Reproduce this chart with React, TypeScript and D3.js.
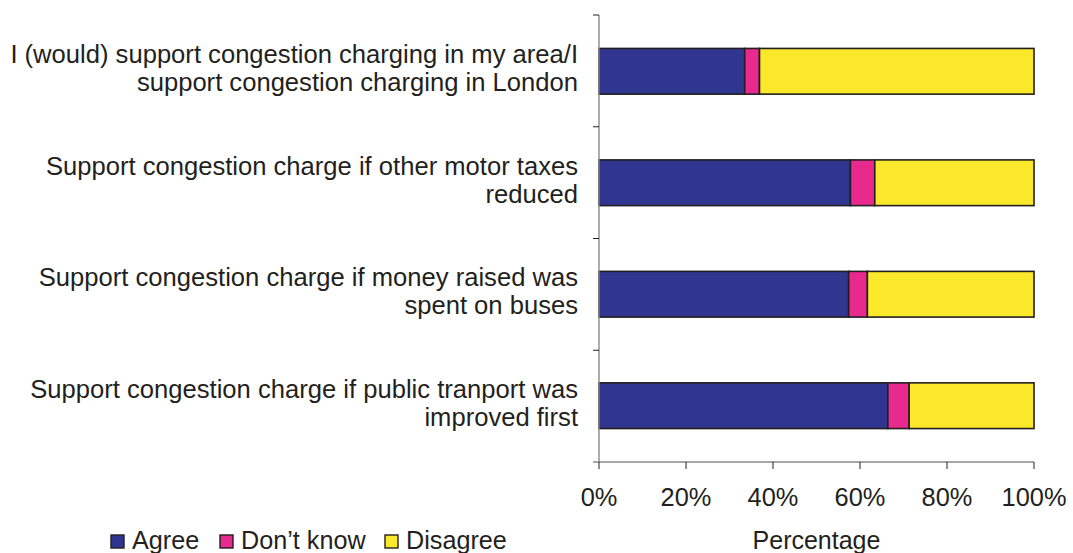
import * as React from "react";
import * as d3 from "d3";

const CATEGORY_LINES: string[][] = [
  ["I (would) support congestion charging in my area/I", "support congestion charging in London"],
  ["Support congestion charge if other motor taxes", "reduced"],
  ["Support congestion charge if money raised was", "spent on buses"],
  ["Support congestion charge if public tranport was", "improved first"],
];

const SERIES = ["Agree", "Don\u2019t know", "Disagree"];
const AGREE = [33.5, 57.8, 57.4, 66.4];
const DONT_KNOW = [3.4, 5.6, 4.3, 4.9];
const DISAGREE = [63.1, 36.6, 38.3, 28.7];
const X_TICKS = [0, 20, 40, 60, 80, 100];

const COLORS = ["#30358f", "#e8298e", "#fbe82b"];
const INK = "#231f20";
const AXIS_GREY = "#8a8a8a";
const FONT = "'Liberation Sans', Arial, Helvetica, sans-serif";

export default function App() {
  const width = 1073;
  const height = 553;
  const margin = { left: 599, right: 39, top: 15, bottom: 91 };

  const rows = CATEGORY_LINES.map((_, i) => ({
    idx: i,
    Agree: AGREE[i],
    [SERIES[1]]: DONT_KNOW[i],
    Disagree: DISAGREE[i],
  }));

  const x = d3
    .scaleLinear()
    .domain([0, 100])
    .range([margin.left, width - margin.right]);

  const y = d3
    .scaleBand<number>()
    .domain(rows.map((d) => d.idx))
    .range([margin.top, height - margin.bottom])
    .paddingInner(0.59)
    .paddingOuter(0.3);

  const stacked = d3.stack<any>().keys(SERIES)(rows);

  const y0 = margin.top;
  const y1 = height - margin.bottom;
  // category separators on the y axis
  const boundaries = d3.range(rows.length + 1).map((i) => y0 + i * ((y1 - y0) / rows.length));

  const legendX = [111, 220, 385];

  return (
    <svg
      width={width}
      height={height}
      style={{ position: "absolute", left: 0, top: 0, background: "#fff" }}
      fontFamily={FONT}
    >
      {/* bars */}
      {stacked.map((layer, si) => (
        <g key={SERIES[si]}>
          {layer.map((seg, i) => (
            <rect
              key={i}
              x={x(seg[0])}
              y={y(i)}
              width={x(seg[1]) - x(seg[0])}
              height={y.bandwidth()}
              fill={COLORS[si]}
              stroke={INK}
              strokeWidth={1.6}
            />
          ))}
        </g>
      ))}

      {/* y axis */}
      <line x1={x(0)} x2={x(0)} y1={y0} y2={y1} stroke={AXIS_GREY} strokeWidth={1.4} />
      {boundaries.slice(0, -1).map((b, i) => (
        <line key={i} x1={x(0) - 6} x2={x(0)} y1={b} y2={b} stroke={INK} strokeWidth={1} />
      ))}

      {/* x axis */}
      <line x1={x(0) - 6} x2={x(100)} y1={y1} y2={y1} stroke={AXIS_GREY} strokeWidth={1.4} />
      {X_TICKS.map((t) => (
        <g key={t}>
          <line x1={x(t)} x2={x(t)} y1={y1} y2={y1 + 7} stroke={INK} strokeWidth={1} />
          <text x={x(t)} y={506} textAnchor="middle" fontSize={25.4} fill={INK}>
            {t}%
          </text>
        </g>
      ))}
      <text x={(x(0) + x(100)) / 2} y={549} textAnchor="middle" fontSize={25} fill={INK}>
        Percentage
      </text>

      {/* category labels */}
      {CATEGORY_LINES.map((lines, i) => {
        const cy = (y(i) as number) + y.bandwidth() / 2;
        return (
          <text key={i} textAnchor="end" fontSize={25.6} fill={INK}>
            {lines.map((ln, j) => (
              <tspan key={j} x={x(0) - 21} y={cy + (j - 0.5) * 28 + 6}>
                {ln}
              </tspan>
            ))}
          </text>
        );
      })}

      {/* legend */}
      {SERIES.map((s, i) => (
        <g key={s}>
          <rect x={legendX[i]} y={535} width={13} height={13} fill={COLORS[i]} stroke={INK} strokeWidth={1.4} />
          <text x={legendX[i] + 21} y={549} fontSize={25.2} fill={INK}>
            {s}
          </text>
        </g>
      ))}
    </svg>
  );
}
